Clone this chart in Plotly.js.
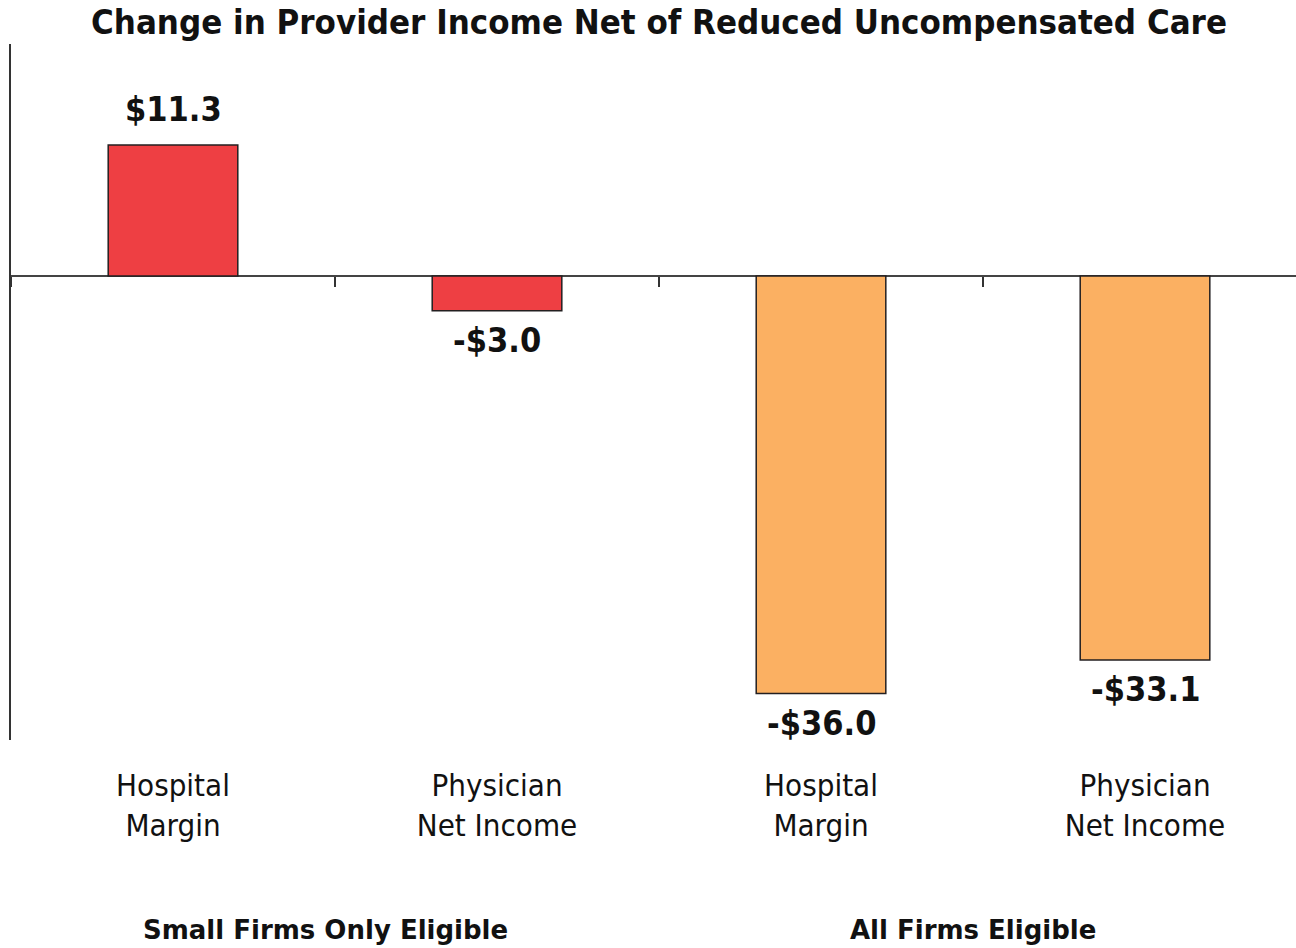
<!DOCTYPE html>
<html>
<head>
<meta charset="utf-8">
<script src="https://cdn.plot.ly/plotly-3.0.1.min.js"></script>
<style>html,body{margin:0;padding:0;background:#fff;}#chart{width:1296px;height:948px;}</style>
</head>
<body>
<div id="chart"></div>
<script>
const categories = ["Hospital<br>Margin", "Physician<br>Net Income", "Hospital<br>Margin", "Physician<br>Net Income"];
const groups = ["Small Firms Only Eligible", "Small Firms Only Eligible", "All Firms Eligible", "All Firms Eligible"];
const values = [11.3, -3.0, -36.0, -33.1];
const barColors = ["#EE3F43", "#EE3F43", "#FBB062", "#FBB062"];

const FONT = "DejaVu Sans Condensed, DejaVu Sans, sans-serif";
const FONT_WIDE = "DejaVu Sans, sans-serif";
const idx = categories.map((_, i) => i);
const fmt = v => (v < 0 ? "-" : "") + "$" + Math.abs(v).toFixed(1);

const bars = {
  type: "bar",
  x: idx,
  y: values,
  width: 0.4,
  marker: {color: barColors, line: {color: "#231F20", width: 1.5}},
  hoverinfo: "skip",
  showlegend: false
};
const tickHelper = {
  type: "scatter",
  x: idx,
  y: values,
  mode: "none",
  xaxis: "x2",
  hoverinfo: "skip",
  showlegend: false
};

const annotations = values.map((v, i) => ({
  x: i, y: v, xref: "x", yref: "y",
  text: fmt(v),
  showarrow: false,
  yanchor: v >= 0 ? "bottom" : "top",
  yshift: v >= 0 ? 14 : -7,
  font: {family: FONT, size: 34, color: "#111", weight: "bold"}
}));

const uniqueGroups = [...new Set(groups)];
uniqueGroups.forEach(g => {
  const ids = idx.filter(i => groups[i] === g);
  const mid = ids.reduce((a, b) => a + b, 0) / ids.length;
  annotations.push({
    x: mid, xref: "x", y: -0.273, yref: "paper",
    xshift: -10,
    text: g, showarrow: false, yanchor: "middle", xanchor: "center",
    font: {family: FONT_WIDE, size: 26, color: "#111", weight: "bold"}
  });
});

const xr = [-0.5, 3.466];
const layout = {
  width: 1296, height: 948,
  margin: {l: 11, r: 0, t: 44, b: 208},
  paper_bgcolor: "#fff", plot_bgcolor: "#fff",
  title: {
    text: "Change in Provider Income Net of Reduced Uncompensated Care",
    x: 0.5085, xref: "container", xanchor: "center",
    y: 1 - 22 / 948, yref: "container", yanchor: "middle",
    font: {family: FONT, size: 34.5, color: "#111", weight: "bold"}
  },
  xaxis: {
    range: xr, tickmode: "array", tickvals: idx, ticktext: categories,
    showline: false, showgrid: false, zeroline: false, ticks: "",
    ticklabelstandoff: 24,
    tickfont: {family: FONT, size: 31, color: "#111"}
  },
  xaxis2: {
    overlaying: "x", anchor: "free", position: 2 / 3, side: "bottom",
    range: xr, tickmode: "array", tickvals: idx.map(i => i - 0.5),
    ticks: "outside", ticklen: 10, tickwidth: 2, tickcolor: "#333",
    showticklabels: false, showline: false, showgrid: false, zeroline: false
  },
  yaxis: {
    range: [-40, 20], showticklabels: false, ticks: "", showgrid: false,
    showline: true, linecolor: "#333", linewidth: 2,
    zeroline: true, zerolinecolor: "#444", zerolinewidth: 2
  },
  annotations: annotations
};

Plotly.newPlot("chart", [bars, tickHelper], layout, {displayModeBar: false, staticPlot: true});
</script>
</body>
</html>
